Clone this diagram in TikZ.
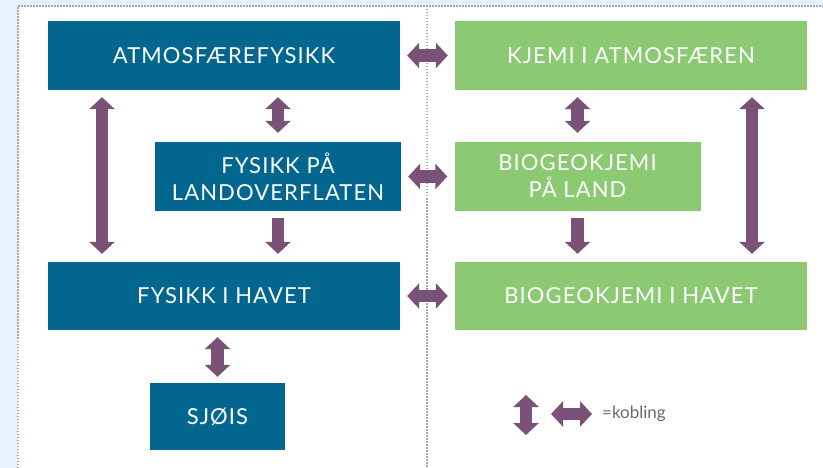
\documentclass[tikz,border=0pt]{standalone}
\usepackage{fontspec}
\setmainfont{Lato}
\newfontfamily\boxfont[LetterSpace=5]{Lato}
\usetikzlibrary{arrows.meta}
\definecolor{bgblue}{HTML}{E3F2FC}
\definecolor{boxblue}{HTML}{02668F}
\definecolor{boxgreen}{HTML}{8BC972}
\definecolor{linkcol}{HTML}{7B5277}
\definecolor{dotgray}{HTML}{A8A8A8}
\definecolor{legtext}{HTML}{6A6A6A}
\tikzset{
  boxbase/.style={inner sep=0pt, text=white, align=center, font=\boxfont\fontsize{22}{27}\selectfont, minimum height=69pt},
  bluebox/.style={boxbase, fill=boxblue},
  greenbox/.style={boxbase, fill=boxgreen},
  tipshape/.tip={Triangle[width=25pt,length=12pt]},
  dlink/.style={draw=linkcol, line width=12.5pt, tipshape-tipshape},
  slink/.style={draw=linkcol, line width=12.5pt, -tipshape},
  dotline/.style={draw=dotgray, line width=1.3pt, dash pattern=on 1.5pt off 1.5pt}
}
\begin{document}
\begin{tikzpicture}[x=1pt,y=-1pt]
  \useasboundingbox (0,0) rectangle (823,468);
  \fill[bgblue] (0,0) rectangle (823,468);
  \fill[white] (18,6) rectangle (823,468);
  \draw[dotline] (18,468) -- (18,6) -- (823,6);
  \draw[dotline] (427,6) -- (427,468);

  \node[bluebox, minimum width=352pt] (atm) at (224,55.5) {ATMOSFÆREFYSIKK};
  \node[greenbox, minimum width=352pt] (kj) at (631,55.5) {KJEMI I ATMOSFÆREN};
  \node[bluebox, minimum width=246pt] (landf) at (278,176.5) {FYSIKK PÅ\\LANDOVERFLATEN};
  \node[greenbox, minimum width=246pt] (landb) at (577.5,176.5) {BIOGEOKJEMI\\PÅ LAND};
  \node[bluebox, minimum width=352pt, minimum height=68pt] (hav) at (224,296) {FYSIKK I HAVET};
  \node[greenbox, minimum width=352pt, minimum height=68pt] (havb) at (631,296) {BIOGEOKJEMI I HAVET};
  \node[bluebox, minimum width=135pt, minimum height=67pt] (sj) at (217.5,416.5) {SJØIS};

  \coordinate (xl) at (102,0);
  \coordinate (xr) at (752,0);

  % horizontal couplings
  \draw[dlink, shorten <=7pt, shorten >=7pt] (atm.east) -- (kj.west);
  \draw[dlink, shorten <=7pt, shorten >=7pt] (landf.east) -- (landb.west);
  \draw[dlink, shorten <=7pt, shorten >=7pt] (hav.east) -- (havb.west);

  % vertical couplings
  \draw[dlink, shorten <=7pt, shorten >=9pt] (atm.south -| landf) -- (landf.north);
  \draw[dlink, shorten <=7pt, shorten >=9pt] (kj.south -| landb) -- (landb.north);
  \draw[dlink, shorten <=7pt, shorten >=8pt] (atm.south -| xl) -- (hav.north -| xl);
  \draw[dlink, shorten <=7pt, shorten >=8pt] (kj.south -| xr) -- (havb.north -| xr);
  \draw[dlink, shorten <=7pt, shorten >=6pt] (hav.south -| sj) -- (sj.north);

  % one-way
  \draw[slink, shorten <=7pt, shorten >=8pt] (landf.south) -- (hav.north -| landf);
  \draw[slink, shorten <=7pt, shorten >=8pt] (landb.south) -- (havb.north -| landb);

  % legend
  \coordinate (lv1) at (526,395);
  \coordinate (lv2) at (526,435);
  \coordinate (lh1) at (551,414);
  \coordinate (lh2) at (592,414);
  \draw[dlink] (lv1) -- (lv2);
  \draw[dlink] (lh1) -- (lh2);
  \node[anchor=west, inner sep=0pt, text=legtext, font=\fontsize{17}{20}\selectfont] (leg) at (602,414) {=kobling};
\end{tikzpicture}
\end{document}
